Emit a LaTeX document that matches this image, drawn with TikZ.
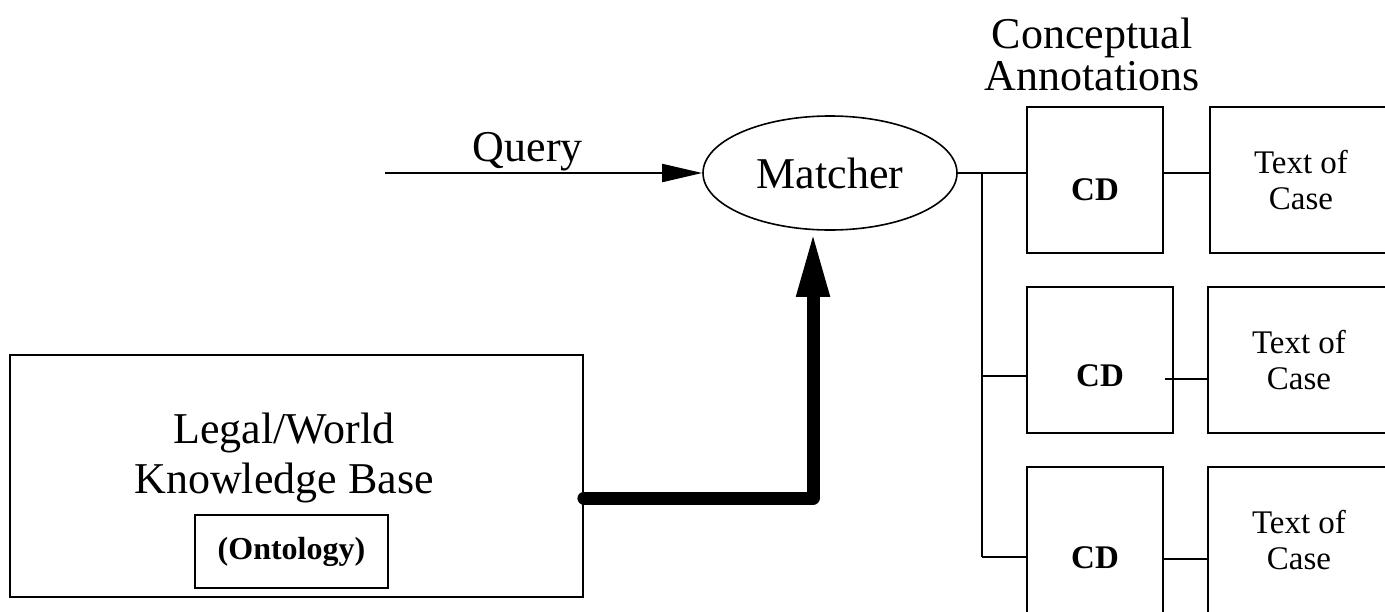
\documentclass[tikz,border=0pt]{standalone}
\usepackage{fontspec}
\setmainfont{Liberation Serif}
\usetikzlibrary{arrows.meta,shapes.geometric,calc}

\tikzset{
	box/.style={draw, line width=1pt, rectangle, inner sep=0pt},
	cdbox/.style={box, minimum width=68pt, minimum height=73pt},
	casebox/.style={box, minimum width=91pt, minimum height=73pt, align=center,
		font=\fontsize{16.5}{18}\selectfont},
	wire/.style={line width=1pt},
}

\begin{document}
\begin{tikzpicture}[x=0.5pt,y=-0.5pt]
			          \useasboundingbox (0,0) rectangle (1385,611);
			          \clip (0,0) rectangle (1385,611);
			          %\draw[help lines,step=50] (0,0) grid (1385,611);

			          % matcher and query
			          \node[draw, ellipse, line width=0.8pt, minimum width=127pt, minimum height=57pt, inner sep=0pt,
			                font=\fontsize{22}{20}\selectfont] (matcher) at (830,173) {Matcher};
			          \coordinate (qstart) at (385,173);
			          \draw[wire, -{Triangle[length=20pt,width=9pt]}] (qstart) -- (matcher.west)
			                node[above, pos=0.45, inner sep=0.5pt, font=\fontsize{22}{20}\selectfont] (query) {Query};

			          % knowledge base
			          \node[box, line width=0.9pt, minimum width=286.5pt, minimum height=121pt] (kb) at (296.5,476) {};
			          \node[align=center, font=\fontsize{22}{25}\selectfont] (kbtext) at (284,458) {Legal/World\\Knowledge Base};
			          \node[box, line width=0.6pt, minimum width=96.5pt, minimum height=36.5pt,
			                font=\bfseries\fontsize{16}{18}\selectfont] (onto) at (291.5,551.5) {(Ontology)};
			          \draw[line width=6.5pt, line join=round, line cap=round, -{Triangle[length=33pt,width=15pt]}]
			                ([yshift=-11pt]kb.east) -| ([xshift=-8.5pt]matcher.south);

			          % conceptual annotations
			          \node[align=center, font=\fontsize{22}{21}\selectfont] (annot) at (1092,54) {Conceptual\\Annotations};
			          \node[cdbox, label={[yshift=-5pt, font=\bfseries\fontsize{16.5}{18}\selectfont]center:CD}] (cd1) at (1095,180) {};
			          \node[cdbox, minimum width=73pt, label={[yshift=-8pt, font=\bfseries\fontsize{16.5}{18}\selectfont]center:CD}] (cd2) at (1100,360) {};
			          \node[cdbox, label={[yshift=-9pt, font=\bfseries\fontsize{16.5}{18}\selectfont]center:CD}] (cd3) at (1095,540) {};
			          \node[casebox] (case1) at (1301,180) {Text of\\Case};
			          \node[casebox] (case2) at (1299,360) {Text of\\Case};
			          \node[casebox] (case3) at (1299,540) {Text of\\Case};

			          % bus from the matcher
			          \coordinate (b1) at (982,173);
			          \coordinate (b2) at (982,376);
			          \coordinate (b3) at (982,557);
			          \draw[wire] (matcher.east) -- (matcher.east -| cd1.west);
			          \draw[wire] (b1) -- (b3);
			          \draw[wire] (b2) -- (b2 -| cd2.west);
			          \draw[wire] (b3) -- (b3 -| cd3.west);

			          \draw[wire] (cd1.east |- b1) -- (case1.west |- b1);
			          \draw[wire] ($(cd2.east |- b2)+(-9,3)$) -- ($(case2.west |- b2)+(0,3)$);
			          \draw[wire] ($(cd3.east |- b3)+(0,2)$) -- ($(case3.west |- b3)+(0,2)$);
				  \end{tikzpicture}
\end{document}
